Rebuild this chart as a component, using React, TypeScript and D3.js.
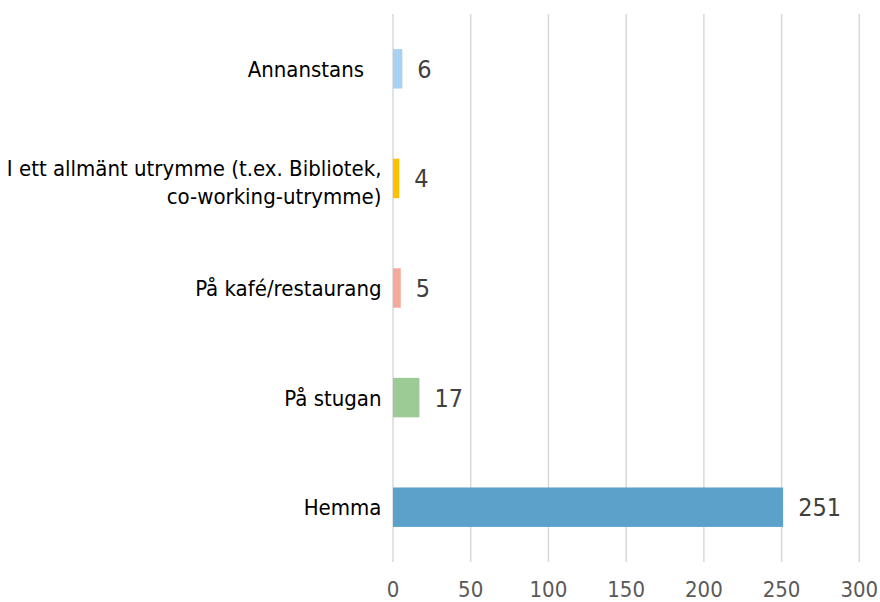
import * as d3 from 'd3';

// chart data (top to bottom)
const categories = [
  'Annanstans',
  'I ett allmänt utrymme (t.ex. Bibliotek,|co-working-utrymme)',
  'På kafé/restaurang',
  'På stugan',
  'Hemma',
];
const values = [6, 4, 5, 17, 251];
const barColors = ['#a9d2f2', '#ffc000', '#f5a99b', '#9dcb95', '#5ba1ca'];
const xTicks = [0, 50, 100, 150, 200, 250, 300];

const WIDTH = 880;
const HEIGHT = 602;
const FONT = '"DejaVu Sans Condensed", "DejaVu Sans", sans-serif';

const App = () => {
  const x = d3.scaleLinear().domain([0, 300]).range([393, 859.3]);
  const y = d3.scaleBand<string>()
    .domain(categories)
    .range([14, 562])
    .paddingInner(0.64)
    .paddingOuter(0.32);

  return (
    <svg
      width={WIDTH}
      height={HEIGHT}
      style={{ position: 'absolute', left: 0, top: 0, background: '#fff' }}
    >
      {/* gridlines */}
      <g>
        {xTicks.map(t => (
          <line
            key={t}
            x1={x(t)}
            x2={x(t)}
            y1={14}
            y2={562}
            stroke="#d9d9d9"
            strokeWidth={1.5}
          />
        ))}
      </g>

      {/* tick labels */}
      <g fontFamily={FONT} fontSize={22} fill="#595959" textAnchor="middle">
        {xTicks.map(t => (
          <text key={t} x={x(t)} y={596.5}>{t}</text>
        ))}
      </g>

      {/* bars */}
      <g>
        {categories.map((c, i) => (
          <rect
            key={c}
            x={x(0)}
            y={y(c)}
            width={x(values[i]) - x(0)}
            height={y.bandwidth()}
            fill={barColors[i]}
          />
        ))}
      </g>

      {/* value labels */}
      <g fontFamily={FONT} fontSize={25} fill="#404040">
        {categories.map((c, i) => (
          <text
            key={c}
            x={x(values[i]) + 15}
            y={(y(c) || 0) + y.bandwidth() / 2 + 9}
          >
            {values[i]}
          </text>
        ))}
      </g>

      {/* category labels */}
      <g fontFamily={FONT} fontSize={22} fill="#000" textAnchor="end">
        {categories.map((c, i) => {
          const lines = c.split('|');
          const cy = (y(c) || 0) + y.bandwidth() / 2;
          const lh = 27.7;
          const first = lines.length > 1 ? cy - 2 : cy + 8;
          const right = i === 0 ? 364 : 381.5;
          return (
            <text key={c}>
              {lines.map((l, j) => (
                <tspan key={j} x={right} y={first + j * lh}>
                  {l}
                </tspan>
              ))}
            </text>
          );
        })}
      </g>
    </svg>
  );
};

export default App;
